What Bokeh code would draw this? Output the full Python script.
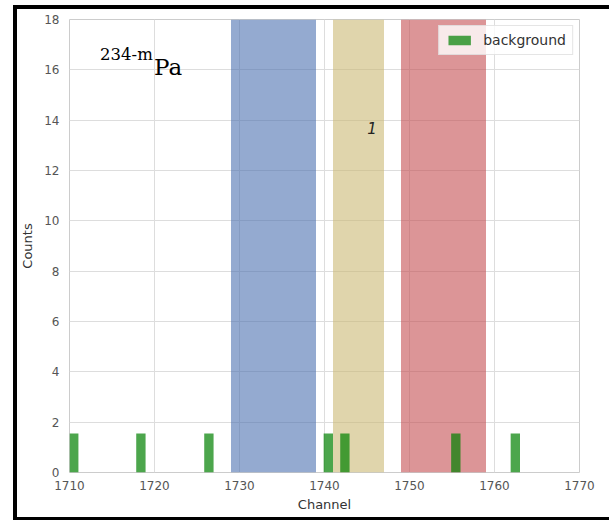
from bokeh.plotting import figure
from bokeh.models import Legend, LegendItem, FixedTicker, Spacer
from bokeh.layouts import column, row
from bokeh.core.properties import value
from bokeh.embed import file_html
from bokeh.resources import INLINE

# data
bg_channels = [1710.5, 1718.4, 1726.4, 1740.45, 1742.4, 1755.45, 1762.45]
bg_counts = [1.55, 1.55, 1.55, 1.55, 1.55, 1.55, 1.55]
region_left = [1729, 1741, 1749]
region_right = [1739, 1747, 1759]
region_colors = ["#4c72b0", "#ccb974", "#c44e52"]
x_ticks = [1710, 1720, 1730, 1740, 1750, 1760, 1770]
y_ticks = [0, 2, 4, 6, 8, 10, 12, 14, 16, 18]

p = figure(width=592, height=508, x_range=(1710, 1770), y_range=(0, 18),
           output_backend="svg", toolbar_location=None,
           min_border_left=50, min_border_right=30, min_border_top=10, min_border_bottom=45)

p.background_fill_color = "white"
p.outline_line_color = "#cccccc"
p.outline_line_width = 1

for ax in (p.xaxis, p.yaxis):
    ax.axis_line_color = None
    ax.major_tick_line_color = None
    ax.minor_tick_line_color = None
    ax.major_tick_out = 0
    ax.major_label_text_font = "DejaVu Sans"
    ax.major_label_text_font_size = "12px"
    ax.major_label_text_color = "#555555"
    ax.axis_label_text_font = "DejaVu Sans"
    ax.axis_label_text_font_size = "13px"
    ax.axis_label_text_font_style = "normal"
    ax.axis_label_text_color = "#333333"

p.xaxis.ticker = FixedTicker(ticks=x_ticks)
p.yaxis.ticker = FixedTicker(ticks=y_ticks)
p.xaxis.axis_label = "Channel"
p.yaxis.axis_label = "Counts"
p.xaxis.major_label_standoff = 8
p.yaxis.major_label_standoff = 10
p.xaxis.axis_label_standoff = 4
p.yaxis.axis_label_standoff = 6

p.xgrid.grid_line_color = "#dddddd"
p.ygrid.grid_line_color = "#dddddd"

p.quad(left=region_left, right=region_right, bottom=0, top=18,
       fill_color=region_colors, fill_alpha=0.6, line_color=None)

bars = p.vbar(x=bg_channels, top=bg_counts, bottom=0, width=1.1,
              fill_color="green", fill_alpha=0.7, line_color=None)

p.text(x=[1745.6], y=[13.7], text=["1"], text_font=value("DejaVu Sans"),
       text_font_style="italic", text_font_size="15px", text_color="#222222",
       text_align="center", text_baseline="middle")

p.text(x=[1713.6], y=[16.6], text=["234-m"], text_font=value("DejaVu Serif"),
       text_font_size="16.5px", text_color="black", text_align="left",
       text_baseline="alphabetic")
p.text(x=[1719.95], y=[16.11], text=["Pa"], text_font=value("DejaVu Serif"),
       text_font_size="23px", text_color="black", text_align="left",
       text_baseline="alphabetic")

legend = Legend(items=[LegendItem(label="background", renderers=[bars])],
                location="top_right")
legend.margin = 6
legend.padding = 6
legend.glyph_width = 28
legend.glyph_height = 12
legend.label_standoff = 10
legend.label_text_font = "DejaVu Sans"
legend.label_text_font_size = "14px"
legend.label_text_color = "#333333"
legend.border_line_color = "#cccccc"
legend.background_fill_alpha = 0.8
p.add_layout(legend)

black = {"background-color": "black"}
gap_row = Spacer(width=609, height=5)
top_bar = row(Spacer(width=13, height=4), Spacer(width=596, height=4, styles=black), spacing=0)
mid = row(Spacer(width=13, height=508), Spacer(width=4, height=508, styles=black), p, spacing=0)
bottom_bar = row(Spacer(width=13, height=3), Spacer(width=596, height=3, styles=black), spacing=0)
layout = column(gap_row, top_bar, mid, bottom_bar, spacing=0)

open("out.html", "w").write(file_html(layout, INLINE))
